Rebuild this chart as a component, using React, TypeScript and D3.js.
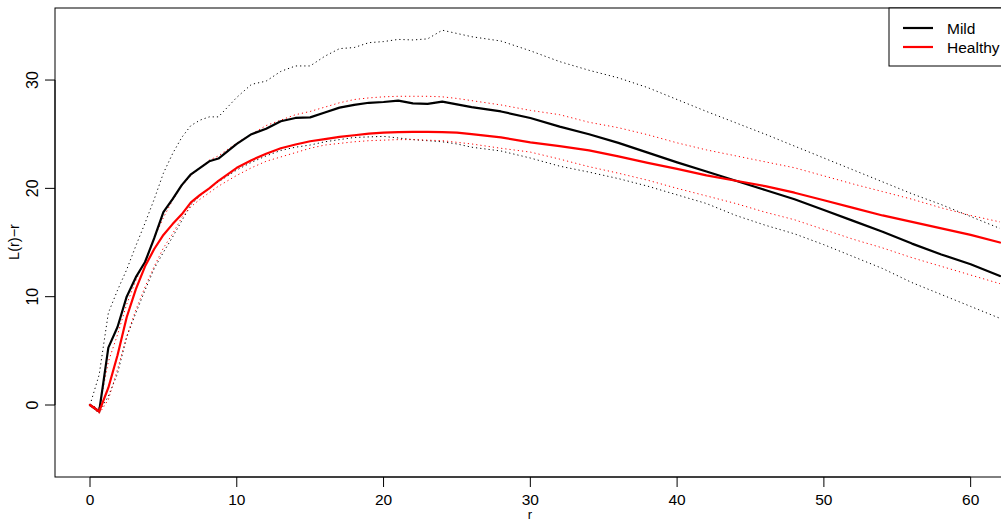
import React from "react";
import * as d3 from "d3";

const rVals = [0, 0.625, 1.25, 1.875, 2.5, 3.125, 3.75, 4.375, 5, 5.625, 6.25, 6.875, 7.5, 8.125, 8.75, 10, 11, 12, 13, 14, 15, 16, 17, 18, 19, 20, 21, 22, 23, 24, 25, 26, 28, 30, 32, 34, 36, 38, 40, 42, 44, 46, 48, 50, 52, 54, 56, 58, 60, 62];

const mild = [0, -0.6, 5.3, 7.2, 10.0, 11.8, 13.2, 15.4, 17.8, 19.0, 20.3, 21.3, 21.9, 22.5, 22.75, 24.1, 25.0, 25.5, 26.2, 26.5, 26.55, 27.0, 27.45, 27.7, 27.9, 27.97, 28.1, 27.85, 27.8, 28.0, 27.75, 27.5, 27.1, 26.5, 25.7, 25.0, 24.2, 23.3, 22.4, 21.55, 20.7, 19.85, 19.0, 18.0, 17.0, 16.0, 14.9, 13.9, 13.0, 11.9];

const healthy = [0, -0.6, 1.6, 4.6, 8.1, 10.7, 12.8, 14.4, 15.7, 16.7, 17.6, 18.7, 19.4, 20.0, 20.7, 21.9, 22.6, 23.2, 23.7, 24.05, 24.35, 24.55, 24.75, 24.9, 25.05, 25.15, 25.2, 25.22, 25.22, 25.2, 25.15, 25.0, 24.7, 24.25, 23.9, 23.5, 22.95, 22.35, 21.8, 21.2, 20.7, 20.2, 19.6, 18.9, 18.2, 17.5, 16.9, 16.3, 15.7, 15.0];

const mildHi = [0, 2.8, 8.5, 10.6, 12.5, 14.7, 16.8, 19.0, 21.4, 23.2, 24.7, 25.8, 26.3, 26.6, 26.6, 28.4, 29.6, 29.9, 30.8, 31.3, 31.3, 32.2, 32.9, 33.0, 33.45, 33.55, 33.75, 33.7, 33.8, 34.6, 34.3, 34.0, 33.6, 32.7, 31.7, 30.9, 30.2, 29.3, 28.2, 27.1, 26.05, 25.0, 23.9, 22.8, 21.7, 20.6, 19.5, 18.5, 17.4, 16.3];

const mildLo = [0, -0.6, 0.8, 2.9, 6.3, 8.5, 10.6, 12.6, 14.1, 15.5, 17.0, 18.5, 19.3, 20.0, 20.6, 21.7, 22.4, 23.0, 23.5, 23.8, 24.0, 24.3, 24.5, 24.7, 24.75, 24.8, 24.65, 24.5, 24.4, 24.3, 24.1, 23.8, 23.45, 22.8, 22.05, 21.5, 20.9, 20.2, 19.4, 18.6, 17.5, 16.6, 15.8, 14.8, 13.7, 12.6, 11.3, 10.2, 9.1, 8.0];

const healthyHi = [0, -0.3, 4.0, 6.5, 9.3, 11.5, 13.3, 15.4, 17.3, 18.9, 20.2, 21.2, 21.9, 22.6, 23.0, 24.2, 25.0, 25.8, 26.3, 26.8, 27.1, 27.5, 27.9, 28.2, 28.35, 28.45, 28.5, 28.5, 28.5, 28.45, 28.3, 28.1, 27.7, 27.2, 26.8, 26.1, 25.6, 24.95, 24.2, 23.55, 23.0, 22.45, 21.9, 21.15, 20.4, 19.7, 19.0, 18.2, 17.5, 16.9];

const healthyLo = [0, -0.8, 0.5, 3.3, 6.3, 8.8, 10.9, 12.8, 14.5, 15.8, 17.3, 18.3, 19.0, 19.6, 20.2, 21.2, 21.9, 22.5, 22.9, 23.3, 23.7, 24.0, 24.15, 24.3, 24.4, 24.45, 24.5, 24.5, 24.45, 24.4, 24.25, 24.1, 23.7, 23.35, 22.7, 22.0, 21.4, 20.75, 20.0, 19.3, 18.6, 17.8, 17.1, 16.2, 15.3, 14.5, 13.6, 12.8, 12.0, 11.2];

const xTicks = [0, 10, 20, 30, 40, 50, 60];
const yTicks = [0, 10, 20, 30];
const legendLabels = ["Mild", "Healthy"];
const legendColors = ["#000000", "#ff0000"];

const W = 1001;
const H = 521;
const plotL = 55;
const plotT = 8;
const plotB = 477;
const plotR = 1005;

export default function App() {
  const x = d3.scaleLinear().domain([-2.385, 62.34]).range([plotL, plotR]);
  const y = d3.scaleLinear().domain([-6.646, 36.65]).range([plotB, plotT]);

  const line = (vals: number[]) =>
    d3
      .line<number>()
      .x((_, i) => x(rVals[i]))
      .y((v) => y(v))(vals) || "";

  const font = "'Liberation Sans', Arial, Helvetica, sans-serif";

  const series = [
    { v: mildHi, c: "#000000", dot: true },
    { v: mildLo, c: "#000000", dot: true },
    { v: healthyHi, c: "#ff0000", dot: true },
    { v: healthyLo, c: "#ff0000", dot: true },
    { v: mild, c: "#000000", dot: false },
    { v: healthy, c: "#ff0000", dot: false },
  ];

  return (
    <svg
      width={W}
      height={H}
      style={{ position: "fixed", left: 0, top: 0, display: "block", background: "#fff" }}
      fontFamily={font}
    >
      <defs>
        <clipPath id="plotclip">
          <rect x={plotL} y={plotT} width={plotR - plotL} height={plotB - plotT} />
        </clipPath>
      </defs>
      <rect x={0} y={0} width={W} height={H} fill="#fff" />
      <g clipPath="url(#plotclip)">
        {series.map((s, i) => (
          <path
            key={i}
            d={line(s.v)}
            fill="none"
            stroke={s.c}
            strokeWidth={s.dot ? 1 : 2.2}
            strokeDasharray={s.dot ? "1.2 3" : undefined}
            strokeLinejoin="round"
            strokeLinecap={s.dot ? "butt" : "round"}
          />
        ))}
      </g>
      <rect x={plotL} y={plotT} width={plotR - plotL} height={plotB - plotT} fill="none" stroke="#000" strokeWidth={1} />
      <line x1={x(xTicks[0])} x2={x(xTicks[xTicks.length - 1])} y1={plotB} y2={plotB} stroke="#000" />
      {xTicks.map((t) => (
        <g key={t}>
          <line x1={x(t)} x2={x(t)} y1={plotB} y2={plotB + 10} stroke="#000" />
          <text x={x(t)} y={505} textAnchor="middle" fontSize={15.5} fill="#000">
            {t}
          </text>
        </g>
      ))}
      <line x1={plotL} x2={plotL} y1={y(yTicks[0])} y2={y(yTicks[yTicks.length - 1])} stroke="#000" />
      {yTicks.map((t) => (
        <g key={t}>
          <line x1={plotL - 10} x2={plotL} y1={y(t)} y2={y(t)} stroke="#000" />
          <text
            transform={`translate(37.5,${y(t)}) rotate(-90)`}
            textAnchor="middle"
            fontSize={16}
            fill="#000"
          >
            {t}
          </text>
        </g>
      ))}
      <text x={530} y={518.5} textAnchor="middle" fontSize={13} fill="#000">
        r
      </text>
      <text transform={`translate(19,242) rotate(-90)`} textAnchor="middle" fontSize={14.5} fill="#000">
        L(r)−r
      </text>
      <rect x={889} y={plotT} width={130} height={58} fill="#fff" stroke="#000" strokeWidth={1} />
      {legendLabels.map((lab, i) => (
        <g key={lab}>
          <line x1={903} x2={933} y1={28 + i * 19} y2={28 + i * 19} stroke={legendColors[i]} strokeWidth={2.2} />
          <text x={947} y={28 + i * 19 + 5.5} fontSize={15.5} fill="#000">
            {lab}
          </text>
        </g>
      ))}
    </svg>
  );
}
